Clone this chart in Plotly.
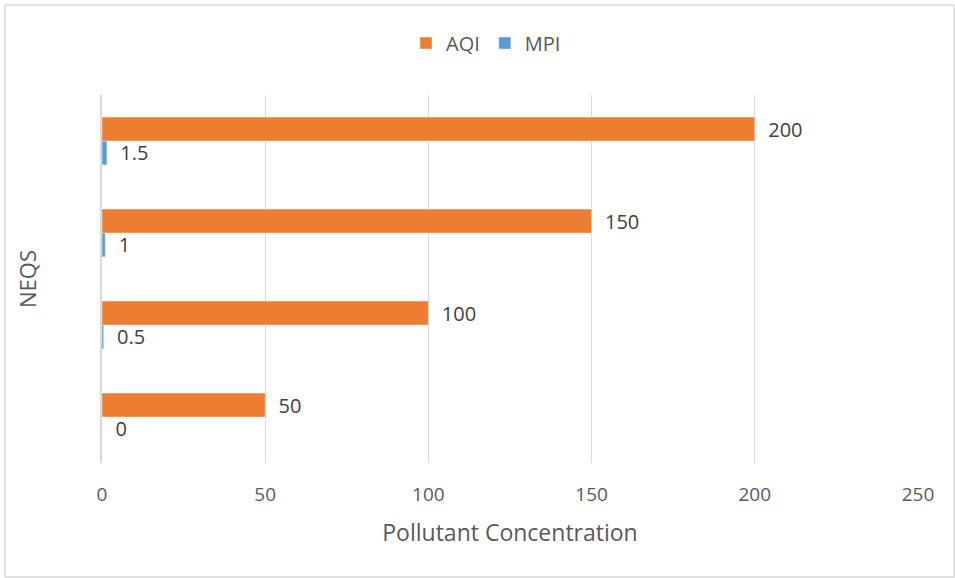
import plotly.graph_objects as go

# Four NEQS levels, bottom to top
levels = [0, 1, 2, 3]
aqi_values = [50, 100, 150, 200]
mpi_values = [0, 0.5, 1, 1.5]
x_ticks = [0, 50, 100, 150, 200, 250]

ORANGE = "#ED7D31"
BLUE = "#5B9BD5"
GRID = "#D9D9D9"
TEXT = "#595959"
LABEL = "#404040"
FONT = "Open Sans"

fig = go.Figure()

# MPI is added first so it sits below AQI inside each group
fig.add_trace(go.Bar(
    name="MPI", y=levels, x=mpi_values, orientation="h",
    marker_color=BLUE, legendrank=2,
    texttemplate="\u00a0\u00a0%{x}", textposition="outside",
    constraintext="none",
    outsidetextfont=dict(family=FONT, size=20, color=LABEL),
    cliponaxis=False,
))
fig.add_trace(go.Bar(
    name="AQI", y=levels, x=aqi_values, orientation="h",
    marker_color=ORANGE, legendrank=1,
    texttemplate="\u00a0\u00a0%{x}", textposition="outside",
    constraintext="none",
    outsidetextfont=dict(family=FONT, size=20, color=LABEL),
    cliponaxis=False,
))

W, H = 955, 578
L, R, T, B = 102, 37, 95, 115
pw, ph = W - L - R, H - T - B

def px_x(px):
    return (px - L) / pw

def px_y(py):
    return (H - B - py) / ph

fig.update_layout(
    width=W, height=H,
    margin=dict(l=L, r=R, t=T, b=B),
    paper_bgcolor="white", plot_bgcolor="white",
    barmode="group", bargap=0.48, bargroupgap=0,
    font=dict(family=FONT, color=TEXT, size=19),
    showlegend=True,
    legend=dict(
        orientation="h", x=px_x(486), xanchor="center",
        y=px_y(43), yanchor="middle",
        font=dict(family=FONT, size=20, color=TEXT),
        itemwidth=30, traceorder="normal",
    ),
    xaxis=dict(
        range=[0, 250], tickvals=x_ticks, showgrid=True, gridcolor=GRID,
        gridwidth=1.3, zeroline=False, showline=False,
        ticklabelstandoff=18,
        tickfont=dict(family=FONT, size=19, color=TEXT),
        title=dict(text="Pollutant Concentration", standoff=18,
                   font=dict(family=FONT, size=23, color=TEXT)),
        fixedrange=True,
    ),
    yaxis=dict(
        range=[-0.5, 3.5], showticklabels=False, showgrid=False,
        zeroline=False, showline=True, linecolor=GRID, linewidth=1.5,
        ticks="",
        title=dict(text="NEQS", standoff=58,
                   font=dict(family=FONT, size=22, color=TEXT)),
        fixedrange=True,
    ),
    shapes=[dict(
        type="rect", xref="paper", yref="paper",
        x0=px_x(5), x1=px_x(954), y0=px_y(577), y1=px_y(5),
        line=dict(color=GRID, width=1.5), fillcolor="rgba(0,0,0,0)",
        layer="below",
    )],
)

fig.write_html("out.html")
